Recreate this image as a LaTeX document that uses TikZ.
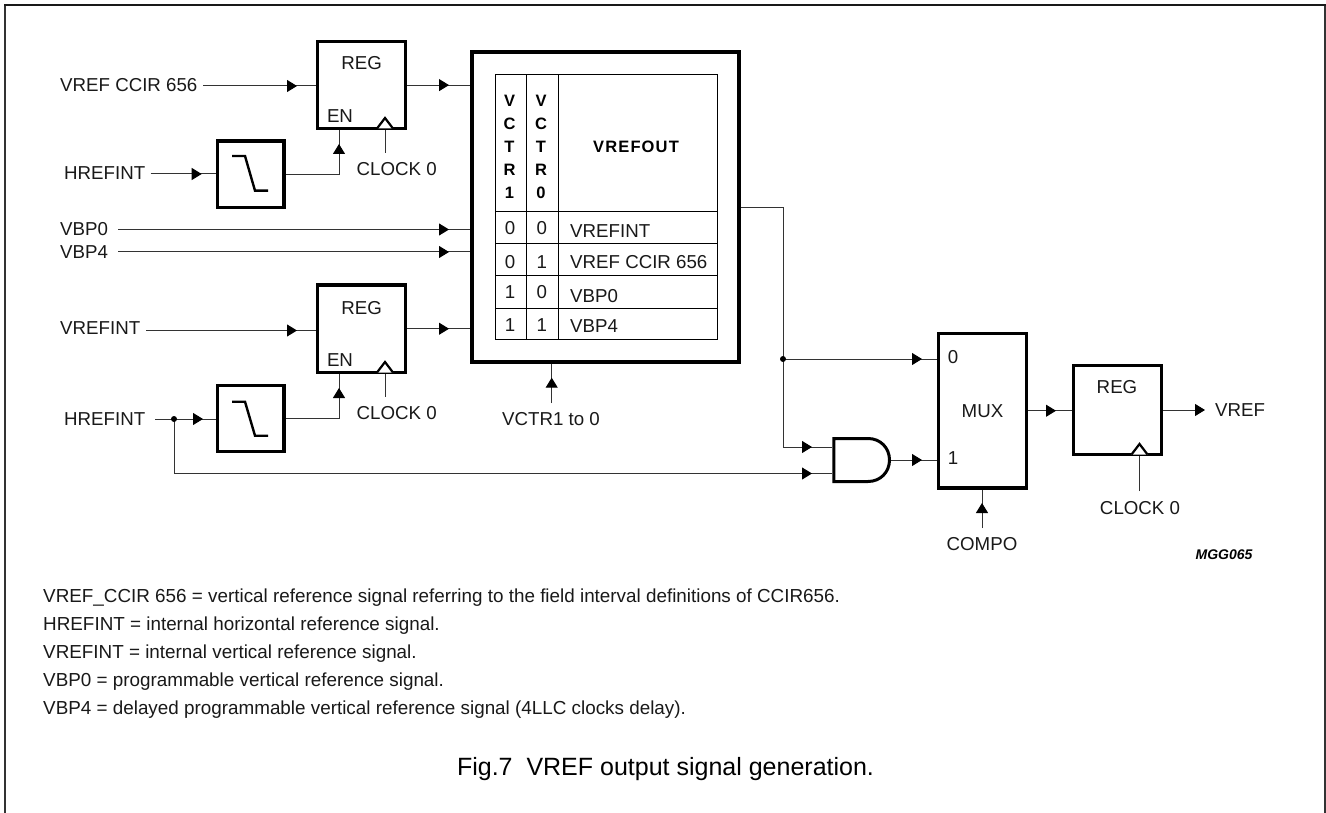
\documentclass[tikz,border=0pt]{standalone}
\usepackage{fontspec}
\setmainfont{Liberation Sans}
\usetikzlibrary{arrows.meta,decorations.markings}
\tikzset{
  x=1pt,y=-1pt,
  wire/.style={line width=1pt,draw=black!80},
  tipat/.style={postaction={decorate},decoration={markings,mark=at position #1 with {\arrow[black]{Triangle[length=10pt,width=12pt]}}}},
  endtip/.style={-{Triangle[length=10pt,width=12pt,black]}},
  thick box/.style={draw=black,line width=3.2pt,fill=white,inner sep=0pt},
  lab/.style={inner sep=0pt,font=\fontsize{18.7}{20}\selectfont,text=black!90},
  notes/.style={inner sep=0pt,anchor=base west,font=\fontsize{18.85}{20}\selectfont,text=black!90},
  tbl/.style={line width=1pt,draw=black},
  tblhead/.style={inner sep=0pt,font=\fontsize{16.5}{18}\selectfont\bfseries},
  dotn/.style={circle,fill=black,inner sep=0pt,minimum size=6pt},
  clk/.style={line width=2.2pt,fill=white},
  edgesym/.style={line width=2.4pt,line join=miter},
}
\begin{document}
\begin{tikzpicture}
\useasboundingbox (0,0) rectangle (1326,813);
\fill[white] (0,0) rectangle (1326,813);
% frame
\draw[line width=1.4pt,draw=black!80] (5,813) -- (5,5);
\draw[line width=1.4pt,draw=black!80] (1325,813) -- (1325,5);
\draw[line width=2pt,draw=black!90] (4.3,5) -- (1325.7,5);

% blocks
\node[thick box,minimum width=88pt,minimum height=87pt,anchor=north west] (reg1) at (316,40) {};
\node[thick box,minimum width=88pt,minimum height=87.3pt,anchor=north west] (reg2) at (316,283.5) {};
\node[thick box,minimum width=88.2pt,minimum height=88.8pt,anchor=north west] (reg3) at (1071.6,364) {};
\node[thick box,minimum width=66.3pt,minimum height=66.3pt,anchor=north west] (f1) at (216,139.5) {};
\node[thick box,minimum width=66.3pt,minimum height=66.3pt,anchor=north west] (f2) at (216,383.5) {};
\node[thick box,line width=4pt,minimum width=266.7pt,minimum height=310pt,anchor=north west] (main) at (470,50) {};
\node[thick box,minimum width=88.1pt,minimum height=154.3pt,anchor=north west] (mux) at (936.7,332) {};

% labels
\node[lab,anchor=west] (l1) at (60,85.3) {VREF CCIR 656};
\node[lab,anchor=west] (l2) at (64,173) {HREFINT};
\node[lab,anchor=west] (l3) at (60,229) {VBP0};
\node[lab,anchor=west] (l4) at (60,251.7) {VBP4};
\node[lab,anchor=west] (l5) at (60,328) {VREFINT};
\node[lab,anchor=west] (l6) at (64,419) {HREFINT};
\node[lab] (regt1) at (361.7,62.7) {REG};
\node[lab] (regt2) at (361.7,308) {REG};
\node[lab] (regt3) at (1117,387) {REG};
\node[lab] (en1) at (340,116) {EN};
\node[lab] (en2) at (340,360) {EN};
\node[lab] (ck1) at (396.7,169) {CLOCK 0};
\node[lab] (ck2) at (396.7,413) {CLOCK 0};
\node[lab] (ck3) at (1140,508) {CLOCK 0};
\node[lab] (vctr) at (551,419) {VCTR1 to 0};
\node[lab] (mux0) at (953,357) {0};
\node[lab] (mux1) at (953,458) {1};
\node[lab] (muxt) at (982.5,411) {MUX};
\node[lab] (compo) at (982,544) {COMPO};
\node[lab,anchor=west] (vref) at (1215,410) {VREF};
\node[inner sep=0pt,font=\fontsize{14}{16}\selectfont\bfseries\itshape] (mgg) at (1224,555) {MGG065};

% connector ends
\coordinate (s1) at (203,86);
\coordinate (s2) at (150.7,174);
\coordinate (s3) at (118,229.5);
\coordinate (s4) at (118,252);
\coordinate (s5) at (146,330.5);
\coordinate (s6) at (155,419);
\coordinate (en1p) at (339,130);
\coordinate (en2p) at (339,374);
\coordinate (ck1p) at (385,130);
\coordinate (ck2p) at (385,374);
\coordinate (ck3p) at (1139.5,456);
\coordinate (c1) at (385,152.7);
\coordinate (c2) at (385,396.7);
\coordinate (c3) at (1139.5,491);
\coordinate (vc) at (551.7,403);
\coordinate (cc) at (982,528);
\coordinate (mo) at (783,208);
\coordinate (j1) at (783,359);
\coordinate (j2) at (174,419);
\coordinate (a1) at (832.3,447);
\coordinate (a2) at (832.3,473.5);
\coordinate (a3) at (891,460);
\coordinate (vo) at (1205,410);

% connectors
\draw[wire,tipat=-19pt] (s1) -- (s1 -| reg1.west);
\draw[wire,tipat=-21pt] (reg1.east) -- (reg1.east -| main.west);
\draw[wire,tipat=-14.3pt] (s2) -- (s2 -| f1.west);
\draw[wire,tipat=-14pt] (f1.east) -| (en1p);
\draw[wire] (c1) -- (ck1p);
\draw[wire,tipat=-21pt] (s3) -- (s3 -| main.west);
\draw[wire,tipat=-21pt] (s4) -- (s4 -| main.west);
\draw[wire,tipat=-19pt] (s5) -- (s5 -| reg2.west);
\draw[wire,tipat=-21pt] (reg2.east) -- (reg2.east -| main.west);
\draw[wire,tipat=-13pt] (s6) -- (s6 -| f2.west);
\draw[wire,tipat=-14pt] (f2.east) -| (en2p);
\draw[wire] (c2) -- (ck2p);
\draw[wire,tipat=-20.3pt] (j2) |- (a2);
\draw[wire,tipat=-20.3pt] (mo -| main.east) -- (mo) |- (a1);
\draw[wire,tipat=-14.7pt] (j1) -- (j1 -| mux.west);
\draw[wire,tipat=-14.7pt] (a3) -- (a3 -| mux.west);
\draw[wire,tipat=-15.6pt] (mux.east) -- (mux.east -| reg3.west);
\draw[wire,endtip] (reg3.east) -- (reg3.east -| vo);
\draw[wire] (c3) -- (ck3p);
\draw[wire,tipat=-13.7pt] (vc) -- (vc |- main.south);
\draw[wire,tipat=-13.5pt] (cc) -- (cc |- mux.south);
\node[dotn] (d1) at (j1) {};
\node[dotn] (d2) at (j2) {};

% clock triangles
\draw[clk] (377,128.5) -- (385,118) -- (393,128.5);
\draw[clk] (377,372.5) -- (385,362) -- (393,372.5);
\draw[clk] (1131.5,454.5) -- (1139.5,444) -- (1147.5,454.5);

% falling edge symbols
\draw[edgesym] (232,156) -- (245,156) -- (255,190.7) -- (268,190.7);
\draw[edgesym] (232,401.7) -- (245,401.7) -- (255,435.7) -- (268,435.7);

% AND gate
\draw[line width=3pt,fill=white] (833.8,438.5) -- (868,438.5) .. controls (880.5,438.5) and (889.5,448) .. (889.5,460) .. controls (889.5,472) and (880.5,481.5) .. (868,481.5) -- (833.8,481.5) -- cycle;

% table
\draw[tbl] (495,75) rectangle (717,339);
\foreach \yy in {212,244,276,308}{\draw[tbl] (495,\yy) -- (717,\yy);}
\draw[tbl] (526.5,75) -- (526.5,339);
\draw[tbl] (558.5,75) -- (558.5,339);
\foreach \t [count=\i] in {V,C,T,R,1}{\node[tblhead] (ha\i) at (509.5,{100.7+(\i-1)*23}) {\t};}
\foreach \t [count=\i] in {V,C,T,R,0}{\node[tblhead] (hb\i) at (541,{100.7+(\i-1)*23}) {\t};}
\node[tblhead,font=\fontsize{16.5}{18}\selectfont\bfseries\addfontfeatures{LetterSpace=7}] (hv) at (636,146.7) {VREFOUT};
\node[lab] (t1) at (510,228) {0}; \node[lab] (t2) at (541.7,228) {0};
\node[lab] (t3) at (510,261.7) {0}; \node[lab] (t4) at (541.7,261.7) {1};
\node[lab] (t5) at (510,292) {1}; \node[lab] (t6) at (541.7,292) {0};
\node[lab] (t7) at (510,325) {1}; \node[lab] (t8) at (541.7,325) {1};
\node[lab,anchor=west] (v1) at (570,230.7) {VREFINT};
\node[lab,anchor=west] (v2) at (570,262) {VREF CCIR 656};
\node[lab,anchor=west] (v3) at (570,295.7) {VBP0};
\node[lab,anchor=west] (v4) at (570,325.7) {VBP4};

% notes
\node[notes] (n1) at (43,602) {VREF\_CCIR 656 = vertical reference signal referring to the field interval definitions of CCIR656.};
\node[notes] (n2) at (43,630) {HREFINT = internal horizontal reference signal.};
\node[notes] (n3) at (43,658) {VREFINT = internal vertical reference signal.};
\node[notes] (n4) at (43,686) {VBP0 = programmable vertical reference signal.};
\node[notes] (n5) at (43,714) {VBP4 = delayed programmable vertical reference signal (4LLC clocks delay).};
\node[inner sep=0pt,anchor=base,font=\fontsize{25}{28}\selectfont] (title) at (665.5,775.5) {Fig.7\ \ VREF output signal generation.};
\end{tikzpicture}
\end{document}
